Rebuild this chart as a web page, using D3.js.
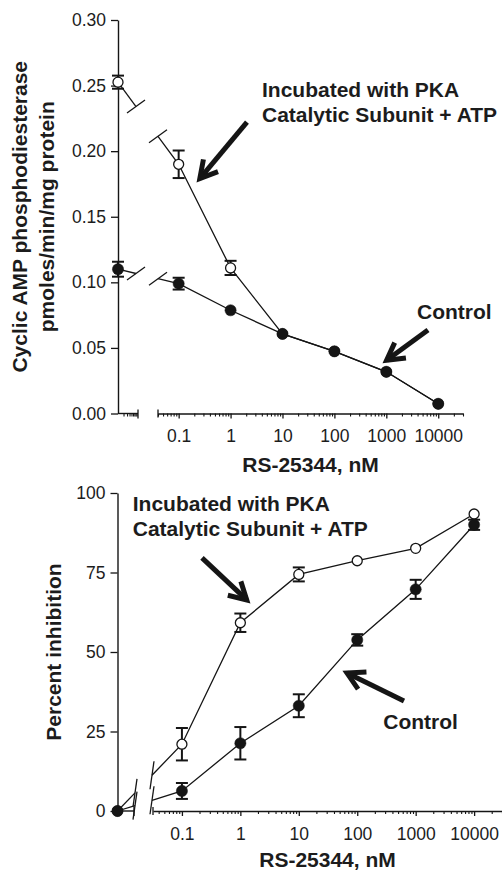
<!DOCTYPE html>
<html><head><meta charset="utf-8">
<script src="https://cdn.jsdelivr.net/npm/d3@7"></script>
<style>
body{margin:0;background:#fff}
text{font-family:"Liberation Sans",Arial,Helvetica,sans-serif;fill:#1c1c1c}
</style>
</head><body>
<svg id="c" width="502" height="871"></svg>
<script>
// ---------------- data ----------------
const conc = [0, 0.1, 1, 10, 100, 1000, 10000];           // nM, 0 = no drug
const xTickValues = [0.1, 1, 10, 100, 1000, 10000];
const xTickLabels = ["0.1", "1", "10", "100", "1000", "10000"];

// Panel A: cAMP PDE activity (pmoles/min/mg protein)
const pdeControl    = [0.110, 0.099, 0.0787, 0.0607, 0.0474, 0.0318, 0.0074];
const pdeControlErr = [0.0057, 0.0045, 0, 0, 0, 0, 0];
const pdePKA        = [0.2526, 0.190, 0.111, 0.0607, 0.0474, 0.0318, 0.0074];
const pdePKAErr     = [0.005, 0.0105, 0.0054, 0, 0, 0, 0];
const pdeYTicks = [0, 0.05, 0.10, 0.15, 0.20, 0.25, 0.30];

// Panel B: percent inhibition
const inhControl    = [0, 6.3, 21.3, 33.1, 53.8, 69.7, 90.0];
const inhControlErr = [0, 2.5, 5.1, 3.6, 1.8, 3.0, 1.6];
const inhPKA        = [0, 21.0, 59.2, 74.4, 78.7, 82.6, 93.4];
const inhPKAErr     = [0, 5.1, 2.9, 2.2, 0, 0, 0];
const inhYTicks = [0, 25, 50, 75, 100];

// ---------------- drawing ----------------
const svg = d3.select("#c");
const INK = "#151515";

function panel(cfg) {
  const g = svg.append("g");
  const y = d3.scaleLinear().domain(cfg.yDomain).range([cfg.yBottom, cfg.yTop]);
  const xl = d3.scaleLog().domain(cfg.xDomain).range([cfg.seg2Start, cfg.seg2End]);
  const xs1 = d3.scaleLog().domain([1, 10]).range([cfg.x0, cfg.seg1End]); // small stub segment
  const X = c => c === 0 ? cfg.x0 : xl(c);

  // y axis
  const ya = g.append("g").attr("transform", `translate(${cfg.x0},0)`)
    .call(d3.axisLeft(y).tickValues(cfg.yTicks).tickFormat(cfg.yFmt)
      .tickSize(7).tickPadding(5).tickSizeOuter(0));
  ya.select(".domain").attr("stroke", INK).attr("stroke-width", 1.4);
  ya.selectAll(".tick line").attr("stroke", INK).attr("stroke-width", 1.3);
  ya.selectAll("text").attr("font-size", 17.5).attr("fill", "#1c1c1c");

  // x axis segment 2 (log)
  const minors = [];
  for (let e = -2; e <= 4; e++) for (let k = 2; k <= 9; k++) {
    const v = k * Math.pow(10, e);
    if (v >= cfg.xDomain[0] && v <= cfg.xDomain[1]) minors.push(v);
  }
  const xaMin = g.append("g").attr("transform", `translate(0,${cfg.yBottom})`)
    .call(d3.axisBottom(xl).tickValues(minors).tickFormat("").tickSize(3).tickSizeOuter(0));
  xaMin.select(".domain").remove();
  xaMin.selectAll(".tick line").attr("stroke", INK).attr("stroke-width", 1.1);
  const xa = g.append("g").attr("transform", `translate(0,${cfg.yBottom})`)
    .call(d3.axisBottom(xl).tickValues(xTickValues)
      .tickFormat((d, i) => xTickLabels[i]).tickSize(5).tickPadding(11.5).tickSizeOuter(0));
  xa.select(".domain").attr("stroke", INK).attr("stroke-width", 1.4);
  xa.selectAll(".tick line").attr("stroke", INK).attr("stroke-width", 1.3);
  xa.selectAll("text").attr("font-size", 17.5).attr("fill", "#1c1c1c");
  // end bar at start of segment 2
  g.append("line").attr("x1", cfg.seg2Start).attr("x2", cfg.seg2Start)
    .attr("y1", cfg.yBottom - 4).attr("y2", cfg.yBottom + 4).attr("stroke", INK).attr("stroke-width", 1.3);

  // x axis stub segment 1
  g.append("line").attr("x1", cfg.x0).attr("x2", cfg.seg1End)
    .attr("y1", cfg.yBottom).attr("y2", cfg.yBottom).attr("stroke", INK).attr("stroke-width", 1.4);
  g.append("line").attr("x1", cfg.seg1End).attr("x2", cfg.seg1End)
    .attr("y1", cfg.yBottom - 4).attr("y2", cfg.yBottom + 5).attr("stroke", INK).attr("stroke-width", 1.3);
  if (cfg.stubMinor) {
    g.selectAll(null).data(d3.range(2, 10)).join("line")
      .attr("x1", d => xs1(d)).attr("x2", d => xs1(d))
      .attr("y1", cfg.yBottom).attr("y2", cfg.yBottom + 3)
      .attr("stroke", INK).attr("stroke-width", 1.1);
  }

  // axis titles
  cfg.yTitle.forEach((t, i) => {
    g.append("text").attr("transform", `translate(${cfg.yTitleX[i]},${(cfg.yTop + cfg.yBottom) / 2}) rotate(-90)`)
      .attr("text-anchor", "middle").attr("font-size", 21).attr("font-weight", "bold").text(t);
  });
  g.append("text").attr("x", (cfg.seg2Start + cfg.seg2End) / 2).attr("y", cfg.xTitleY)
    .attr("text-anchor", "middle").attr("font-size", 21).attr("font-weight", "bold").text("RS-25344, nM");

  const line = d3.line();
  function series(vals, errs, open) {
    const pts = conc.map((c, i) => [X(c), y(vals[i])]);
    const p0 = pts[0], p1 = pts[1];
    const at = xx => { const t = (xx - p0[0]) / (p1[0] - p0[0]); return [xx, p0[1] + t * (p1[1] - p0[1])]; };
    const a = at(cfg.gapA), b = at(cfg.gapB);
    const lg = g.append("g").attr("fill", "none").attr("stroke", INK).attr("stroke-width", 1.3);
    lg.append("path").attr("d", line([p0, a]));
    lg.append("path").attr("d", line([b, ...pts.slice(1)]));
    [a, b].forEach(p => lg.append("line")
      .attr("x1", p[0] - cfg.slash[0]).attr("y1", p[1] - cfg.slash[1])
      .attr("x2", p[0] + cfg.slash[0]).attr("y2", p[1] + cfg.slash[1]));
    return { pts, vals, errs, open };
  }
  function errorbars(s) {
    const eg = g.append("g").attr("stroke", INK).attr("stroke-width", 2);
    conc.forEach((c, i) => {
      if (!s.errs[i]) return;
      const cx = X(c), yt = y(s.vals[i] + s.errs[i]), yb = y(s.vals[i] - s.errs[i]);
      eg.append("line").attr("x1", cx).attr("x2", cx).attr("y1", yt).attr("y2", yb);
      eg.append("line").attr("x1", cx - 6).attr("x2", cx + 6).attr("y1", yt).attr("y2", yt);
      eg.append("line").attr("x1", cx - 6).attr("x2", cx + 6).attr("y1", yb).attr("y2", yb);
    });
  }
  function markers(s) {
    g.append("g").selectAll("circle").data(conc).join("circle")
      .attr("cx", d => X(d)).attr("cy", (d, i) => y(s.vals[i]))
      .attr("r", s.open ? 5 : 5.6)
      .attr("fill", s.open ? "#fff" : INK).attr("stroke", INK).attr("stroke-width", s.open ? 1.3 : 0.5);
  }
  const sP = series(cfg.pka, cfg.pkaErr, true);
  const sC = series(cfg.ctrl, cfg.ctrlErr, false);
  errorbars(sP); errorbars(sC);
  markers(sP); markers(sC);

  // annotations (positioned in data space)
  function arrow(tail, tip) {
    const T = [xl(tail[0]), y(tail[1])], P = [xl(tip[0]), y(tip[1])];
    const dx = T[0] - P[0], dy = T[1] - P[1], L = Math.hypot(dx, dy);
    const u = [dx / L, dy / L], n = [-u[1], u[0]];
    const back = 4.5;
    const tipP = [P[0] + u[0] * back, P[1] + u[1] * back];
    const hl = 17, hw = 9.5;
    const w1 = [tipP[0] + u[0] * hl + n[0] * hw, tipP[1] + u[1] * hl + n[1] * hw];
    const w2 = [tipP[0] + u[0] * hl - n[0] * hw, tipP[1] + u[1] * hl - n[1] * hw];
    g.append("path").attr("d", line([T, tipP])).attr("stroke", INK).attr("stroke-width", 5).attr("fill", "none");
    g.append("path").attr("d", line([w1, tipP, w2])).attr("stroke", INK).attr("stroke-width", 5)
      .attr("fill", "none").attr("stroke-linejoin", "miter").attr("stroke-miterlimit", 6);
  }
  cfg.notes.forEach(nt => {
    const t = g.append("text").attr("x", xl(nt.at[0])).attr("y", y(nt.at[1]))
      .attr("font-size", 21).attr("font-weight", "bold");
    nt.lines.forEach((s, i) => t.append("tspan").attr("x", xl(nt.at[0])).attr("dy", i ? 25 : 0).text(s));
    arrow(nt.tail, nt.tip);
  });
}

panel({
  yDomain: [0, 0.30], yTop: 20, yBottom: 413.5, yTicks: pdeYTicks, yFmt: d3.format(".2f"),
  x0: 118, seg1End: 138, seg2Start: 158, seg2End: 463, xDomain: [0.04, 30000],
  stubMinor: true, gapA: 136, gapB: 158, slash: [9, -6.5],
  yTitle: ["Cyclic AMP phosphodiesterase", "pmoles/min/mg protein"], yTitleX: [27, 54],
  xTitleY: 472,
  ctrl: pdeControl, ctrlErr: pdeControlErr, pka: pdePKA, pkaErr: pdePKAErr,
  notes: [
    { lines: ["Incubated with PKA", "Catalytic Subunit + ATP"], at: [4.03, 0.2413], tail: [2.07, 0.2222], tip: [0.225, 0.1765] },
    { lines: ["Control"], at: [3900, 0.0720], tail: [6350, 0.0637], tip: [863, 0.0385] }
  ]
});

panel({
  yDomain: [0, 100], yTop: 493, yBottom: 811, yTicks: inhYTicks, yFmt: d3.format("d"),
  x0: 117.5, seg1End: 134, seg2Start: 153, seg2End: 502, xDomain: [0.032, 30000],
  stubMinor: false, gapA: 135, gapB: 152, slash: [2, -14],
  yTitle: ["Percent inhibition"], yTitleX: [61],
  xTitleY: 867,
  ctrl: inhControl, ctrlErr: inhControlErr, pka: inhPKA, pkaErr: inhPKAErr,
  notes: [
    { lines: ["Incubated with PKA", "Catalytic Subunit + ATP"], at: [0.0144, 94.3], tail: [0.2206, 79.6], tip: [1.462, 65.4] },
    { lines: ["Control"], at: [279, 25.8], tail: [631, 34.6], tip: [57, 44.0] }
  ]
});
</script>
</body></html>
